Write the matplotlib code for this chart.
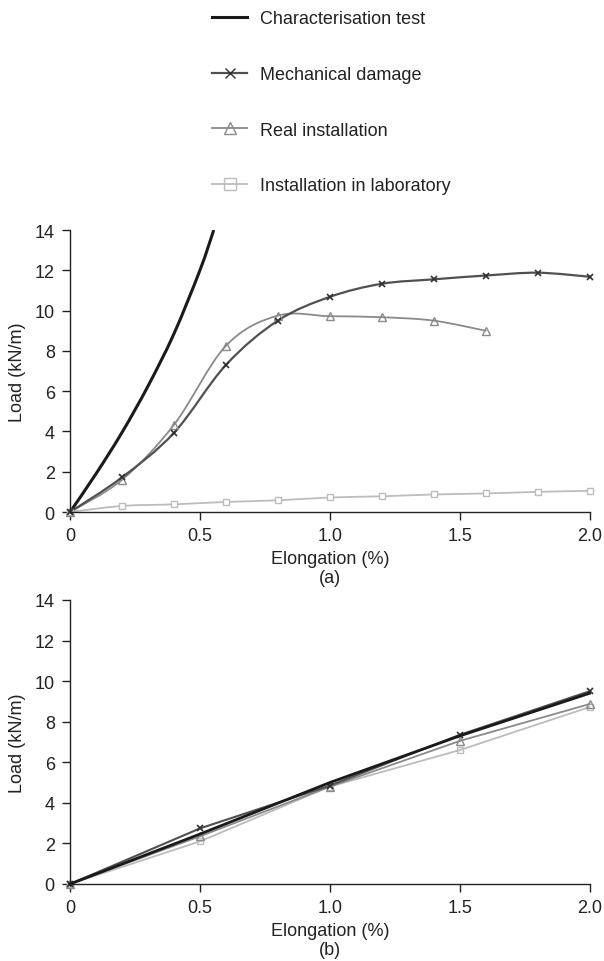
import numpy as np
import matplotlib
matplotlib.use("Agg")
import matplotlib.pyplot as plt
from matplotlib.path import Path
from matplotlib.patches import PathPatch
from matplotlib.lines import Line2D

plt.rcParams['font.family'] = ['Liberation Sans', 'DejaVu Sans']

# ---- data, panel (a) ----
char_x_a = [0, 0.1, 0.2, 0.3, 0.4, 0.5, 0.552]
char_y_a = [0, 1.9, 3.95, 6.25, 8.85, 12.0, 13.95]

mech_x_a = [0, 0.2, 0.4, 0.6, 0.8, 1.0, 1.2, 1.4, 1.6, 1.8, 2.0]
mech_y_a = [0, 1.72, 3.93, 7.3, 9.5, 10.68, 11.33, 11.55, 11.74, 11.88, 11.68]

real_x_a = [0, 0.2, 0.4, 0.6, 0.8, 1.0, 1.2, 1.4, 1.6]
real_y_a = [0, 1.6, 4.33, 8.25, 9.75, 9.72, 9.67, 9.5, 9.0]

lab_x_a = [0, 0.2, 0.4, 0.6, 0.8, 1.0, 1.2, 1.4, 1.6, 1.8, 2.0]
lab_y_a = [0, 0.3, 0.38, 0.5, 0.58, 0.72, 0.78, 0.87, 0.92, 1.0, 1.05]

# ---- data, panel (b) ----
x_b = [0, 0.5, 1.0, 1.5, 2.0]
char_y_b = [0, 2.46, 5.0, 7.3, 9.4]
mech_y_b = [0, 2.74, 4.85, 7.35, 9.5]
real_y_b = [0, 2.35, 4.8, 7.05, 8.87]
lab_y_b = [0, 2.1, 4.8, 6.6, 8.72]

labels = ["Characterisation test", "Mechanical damage",
          "Real installation", "Installation in laboratory"]

c_char = "#1a1a1a"
c_mech = "#505050"
c_real = "#8a8a8a"
c_lab = "#bcbcbc"
FS = 13


def smooth_path(x, y):
    # Catmull-Rom through the data points, drawn as cubic Bezier
    pts = np.column_stack([x, y]).astype(float)
    n = len(pts)
    verts = [pts[0]]
    codes = [Path.MOVETO]
    for i in range(n - 1):
        p0 = pts[max(i - 1, 0)]
        p1 = pts[i]
        p2 = pts[i + 1]
        p3 = pts[min(i + 2, n - 1)]
        c1 = p1 + (p2 - p0) / 6.0
        c2 = p2 - (p3 - p1) / 6.0
        verts += [c1, c2, p2]
        codes += [Path.CURVE4] * 3
    return Path(verts, codes)


def add_smooth(ax, x, y, color, lw):
    ax.add_patch(PathPatch(smooth_path(x, y), fill=False, edgecolor=color,
                           lw=lw, capstyle='round', joinstyle='round'))


def style_axes(ax, xlabel):
    ax.set_xlim(0, 2)
    ax.set_ylim(0, 14)
    ax.set_xticks([0, 0.5, 1.0, 1.5, 2.0])
    ax.set_xticklabels(["0", "0.5", "1.0", "1.5", "2.0"])
    ax.set_yticks(range(0, 15, 2))
    for s in ["top", "right"]:
        ax.spines[s].set_visible(False)
    for s in ["left", "bottom"]:
        ax.spines[s].set_color("#222222")
        ax.spines[s].set_linewidth(1.0)
    ax.tick_params(direction='out', length=6, width=1.0, color="#222222",
                   labelsize=FS, labelcolor="#222222", pad=5)
    ax.set_xlabel(xlabel, fontsize=FS, color="#222222", linespacing=1.2,
                  labelpad=4)
    ax.set_ylabel("Load (kN/m)", fontsize=FS, color="#222222", labelpad=6)


fig = plt.figure(figsize=(6.04, 9.62), dpi=100)

# panel (a)
ax1 = fig.add_axes([0.116, 1 - 513 / 962, 0.860, 282 / 962])
add_smooth(ax1, lab_x_a, lab_y_a, c_lab, 1.3)
ax1.plot(lab_x_a, lab_y_a, ls='none', marker='s', ms=5, mfc='white',
         mec=c_lab, mew=1.0, clip_on=False)
add_smooth(ax1, real_x_a, real_y_a, c_real, 1.3)
ax1.plot(real_x_a, real_y_a, ls='none', marker='^', ms=6, mfc='none',
         mec=c_real, mew=1.0, clip_on=False)
add_smooth(ax1, mech_x_a, mech_y_a, c_mech, 1.6)
ax1.plot(mech_x_a, mech_y_a, ls='none', marker='x', ms=4, mec="#303030",
         mew=1.2, clip_on=False)
add_smooth(ax1, char_x_a, char_y_a, c_char, 2.2)
style_axes(ax1, "Elongation (%)\n(a)")

# panel (b)
ax2 = fig.add_axes([0.116, 1 - 885 / 962, 0.860, 284 / 962])
ax2.plot(x_b, lab_y_b, color=c_lab, lw=1.3, marker='s', ms=5, mfc='none',
         mec=c_lab, clip_on=False)
ax2.plot(x_b, real_y_b, color=c_real, lw=1.3, marker='^', ms=6, mfc='none',
         mec=c_real, clip_on=False)
ax2.plot(x_b, mech_y_b, color=c_mech, lw=1.5, marker='x', ms=4,
         mec="#303030", mew=1.2, clip_on=False)
ax2.plot(x_b, char_y_b, color=c_char, lw=2.0, clip_on=False)
style_axes(ax2, "Elongation (%)\n(b)")

# legend at top
handles = [
    Line2D([], [], color=c_char, lw=2.2),
    Line2D([], [], color=c_mech, lw=1.6, marker='x', ms=7, mec="#303030"),
    Line2D([], [], color=c_real, lw=1.3, marker='^', ms=8, mfc='none',
           mec=c_real),
    Line2D([], [], color=c_lab, lw=1.3, marker='s', ms=8, mfc='none',
           mec=c_lab),
]
fig.legend(handles, labels, loc='upper left',
           bbox_to_anchor=(212 / 604, 1 - 11 / 962), frameon=False,
           fontsize=FS, labelspacing=2.15, handlelength=1.95,
           handletextpad=0.7, borderpad=0, borderaxespad=0,
           labelcolor="#222222")

fig.savefig("out.png", dpi=100)
